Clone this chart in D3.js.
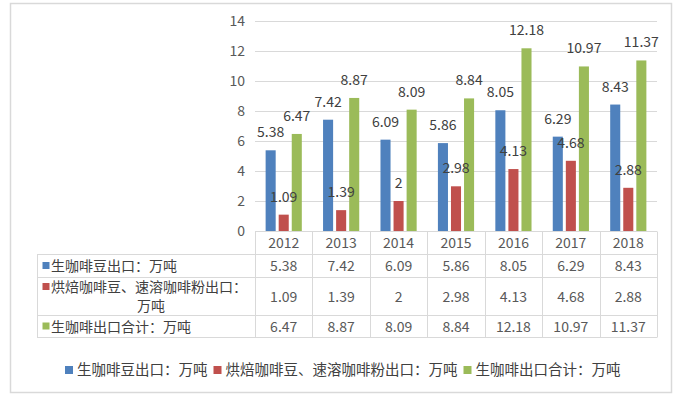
<!DOCTYPE html>
<html>
<head>
<meta charset="utf-8">
<script src="https://cdn.jsdelivr.net/npm/d3@7"></script>
<style>
  body { margin: 0; background: #fff; }
  text { font-family: "Noto Sans CJK SC", "Noto Sans", sans-serif; }
</style>
</head>
<body>
<div id="chart"></div>
<script>
var years = ["2012", "2013", "2014", "2015", "2016", "2017", "2018"];
var seriesNames = ["生咖啡豆出口：万吨", "烘焙咖啡豆、速溶咖啡粉出口：万吨", "生咖啡出口合计：万吨"];
var rawBeans = [5.38, 7.42, 6.09, 5.86, 8.05, 6.29, 8.43];
var roasted = [1.09, 1.39, 2, 2.98, 4.13, 4.68, 2.88];
var totals = [6.47, 8.87, 8.09, 8.84, 12.18, 10.97, 11.37];
var yTicks = [0, 2, 4, 6, 8, 10, 12, 14];
var colors = ["#4f81bd", "#c0504d", "#9bbb59"];

var series = [rawBeans, roasted, totals];
var width = 676, height = 399;

var svg = d3.select("#chart").append("svg")
    .attr("width", width)
    .attr("height", height);

// outer frame
svg.append("rect")
    .attr("x", 10.5).attr("y", 3.5)
    .attr("width", 661).attr("height", 389)
    .attr("fill", "none")
    .attr("stroke", "#d9d9d9")
    .attr("stroke-width", 1.5);

var x0 = d3.scaleBand().domain(years).range([255, 657])
    .paddingInner(0.37).paddingOuter(0.185);
var x1 = d3.scaleBand().domain([0, 1, 2]).range([0, x0.bandwidth()])
    .paddingInner(0.23);
var y = d3.scaleLinear().domain([0, 14]).range([231, 21]);

// gridlines
var grid = svg.append("g").attr("transform", "translate(255,0)")
    .call(d3.axisLeft(y).tickValues(yTicks).tickSize(-402).tickFormat(""));
grid.select(".domain").remove();
grid.selectAll("line").attr("stroke", "#d9d9d9");

// y axis labels
var yAxis = svg.append("g").attr("transform", "translate(255,0)")
    .call(d3.axisLeft(y).tickValues(yTicks).tickSize(0).tickPadding(10));
yAxis.select(".domain").remove();
yAxis.selectAll("text")
    .attr("fill", "#595959")
    .style("font-size", "14px")
    .style("font-family", "'Noto Sans CJK SC', sans-serif");

// bars
var groups = svg.selectAll(".grp")
    .data(years)
    .enter().append("g")
    .attr("class", "grp")
    .attr("transform", function (d) { return "translate(" + x0(d) + ",0)"; });

groups.selectAll("rect")
    .data(function (d, i) { return series.map(function (s, k) { return { k: k, v: s[i] }; }); })
    .enter().append("rect")
    .attr("x", function (d) { return x1(d.k); })
    .attr("width", x1.bandwidth())
    .attr("y", function (d) { return y(d.v); })
    .attr("height", function (d) { return y(0) - y(d.v); })
    .attr("fill", function (d) { return colors[d.k]; });

groups.selectAll(".lbl")
    .data(function (d, i) { return series.map(function (s, k) { return { k: k, v: s[i] }; }); })
    .enter().append("text")
    .attr("class", "lbl")
    .attr("x", function (d) { return x1(d.k) + x1.bandwidth() / 2; })
    .attr("y", function (d) { return y(d.v) - 13; })
    .attr("text-anchor", "middle")
    .attr("fill", "#404040")
    .style("font-size", "14px")
    .text(function (d) { return d.v; });

// data table
var step = x0.step();
var colLeft = function (i) { return 255 + i * step; };
var rowLines = [231.5, 254.5, 277.5, 315.5, 337.5];
var lineColor = "#d9d9d9";
var table = svg.append("g");

// horizontal lines
table.selectAll(".hl")
    .data(rowLines)
    .enter().append("line")
    .attr("x1", function (d, i) { return i === 0 ? 255 : 37; })
    .attr("x2", 657)
    .attr("y1", function (d) { return d; })
    .attr("y2", function (d) { return d; })
    .attr("stroke", lineColor);

// vertical lines
var vcols = d3.range(years.length + 1);
table.selectAll(".vl")
    .data(vcols)
    .enter().append("line")
    .attr("x1", function (d) { return Math.round(colLeft(d)) + 0.5; })
    .attr("x2", function (d) { return Math.round(colLeft(d)) + 0.5; })
    .attr("y1", rowLines[0])
    .attr("y2", rowLines[4])
    .attr("stroke", lineColor);
table.append("line")
    .attr("x1", 37.5).attr("x2", 37.5)
    .attr("y1", rowLines[1]).attr("y2", rowLines[4])
    .attr("stroke", lineColor);

// year header
table.selectAll(".yr")
    .data(years)
    .enter().append("text")
    .attr("x", function (d) { return x0(d) + x0.bandwidth() / 2; })
    .attr("y", (rowLines[0] + rowLines[1]) / 2)
    .attr("dy", "0.36em")
    .attr("text-anchor", "middle")
    .attr("fill", "#595959")
    .style("font-size", "14px")
    .text(function (d) { return d; });

// value rows
series.forEach(function (s, k) {
    var cy = (rowLines[k + 1] + rowLines[k + 2]) / 2;
    table.selectAll(".v" + k)
        .data(s)
        .enter().append("text")
        .attr("x", function (d, i) { return x0(years[i]) + x0.bandwidth() / 2; })
        .attr("y", cy)
        .attr("dy", "0.36em")
        .attr("text-anchor", "middle")
        .attr("fill", "#595959")
        .style("font-size", "14px")
        .text(function (d) { return d; });

    // row header
    var sqY = k === 1 ? 283 : cy - 4;
    table.append("rect")
        .attr("x", 42.5).attr("y", sqY)
        .attr("width", 7).attr("height", 7)
        .attr("fill", colors[k]);
    if (k === 1) {
        table.append("text")
            .attr("x", 51).attr("y", 287)
            .attr("dy", "0.36em")
            .attr("fill", "#404040")
            .style("font-size", "14px")
            .text("烘焙咖啡豆、速溶咖啡粉出口：");
        table.append("text")
            .attr("x", 151).attr("y", 306)
            .attr("dy", "0.36em")
            .attr("text-anchor", "middle")
            .attr("fill", "#404040")
            .style("font-size", "14px")
            .text("万吨");
    } else {
        table.append("text")
            .attr("x", 51).attr("y", cy)
            .attr("dy", "0.36em")
            .attr("fill", "#404040")
            .style("font-size", "14px")
            .text(seriesNames[k]);
    }
});

// legend
var legend = svg.append("g");
var lx = 65;
seriesNames.forEach(function (name, k) {
    legend.append("rect")
        .attr("x", lx).attr("y", 366)
        .attr("width", 8).attr("height", 8)
        .attr("fill", colors[k]);
    var t = legend.append("text")
        .attr("x", lx + 12).attr("y", 370)
        .attr("dy", "0.36em")
        .attr("fill", "#404040")
        .style("font-size", "14.5px")
        .text(name);
    lx += 12 + t.node().getComputedTextLength() + 6;
});
</script>
</body>
</html>
